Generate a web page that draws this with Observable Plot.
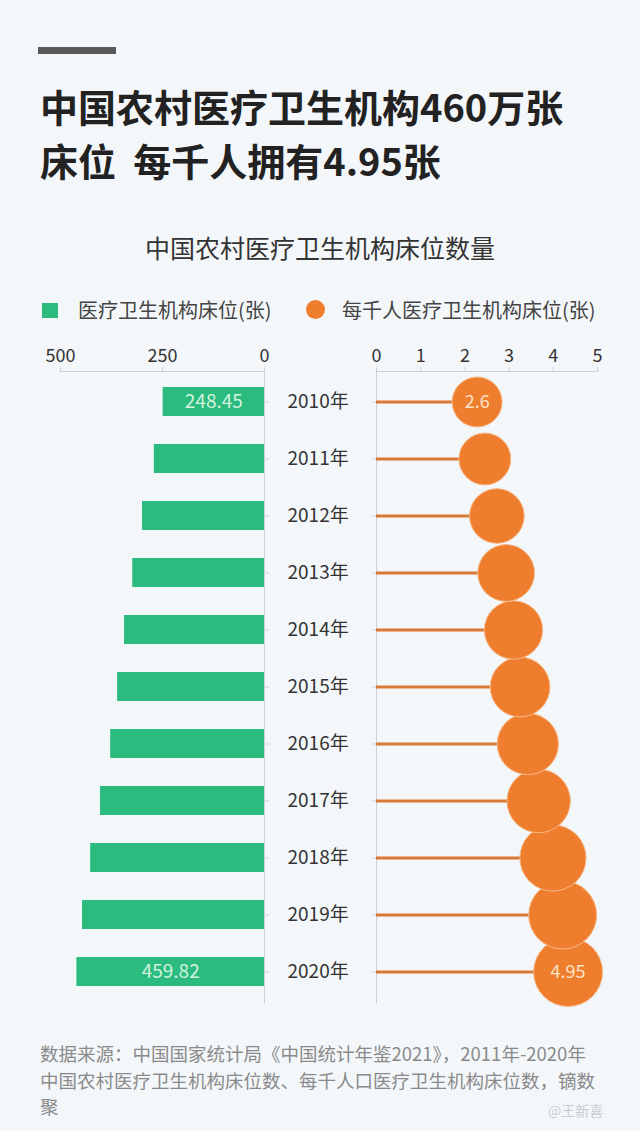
<!DOCTYPE html>
<html><head><meta charset="utf-8">
<script src="https://cdn.jsdelivr.net/npm/d3@7"></script>
<script src="https://cdn.jsdelivr.net/npm/@observablehq/plot@0.6"></script>
<style>
html,body{margin:0;padding:0;background:#f4f7fa;}
body{width:640px;height:1131px;position:relative;overflow:hidden;font-family:"Noto Sans CJK SC","Noto Sans",sans-serif;}
.abs{position:absolute;}
#topbar{left:38px;top:47px;width:78px;height:7px;background:#5a5a5a;}
#title{left:40px;top:79px;font-size:38px;font-weight:bold;line-height:54px;color:#222;white-space:nowrap;}
#sub{left:0;width:640px;text-align:center;top:232px;font-size:25px;line-height:30px;color:#333;}
.lg{top:296px;font-size:20px;line-height:28px;color:#444;white-space:nowrap;}
#sq{left:42px;top:303px;width:16px;height:15px;background:#2bbb7f;}
#dotlg{left:306px;top:300px;width:19px;height:19px;border-radius:50%;background:#ee7d2e;}
#foot{left:40px;top:1040px;font-size:18.5px;line-height:26.5px;color:#8a8a8a;white-space:nowrap;}
#wm{left:548px;top:1100px;font-size:14px;color:#c9cdd1;}
.plot{position:absolute;left:0;top:0;}
</style></head>
<body>
<div id="topbar" class="abs"></div>
<div id="title" class="abs">中国农村医疗卫生机构460万张<br>床位&nbsp;&nbsp;每千人拥有4.95张</div>
<div id="sub" class="abs">中国农村医疗卫生机构床位数量</div>
<div id="sq" class="abs"></div>
<div class="abs lg" style="left:78px;">医疗卫生机构床位(张)</div>
<div id="dotlg" class="abs"></div>
<div class="abs lg" style="left:342px;">每千人医疗卫生机构床位(张)</div>
<div id="foot" class="abs">数据来源：中国国家统计局《中国统计年鉴2021》，2011年-2020年<br>中国农村医疗卫生机构床位数、每千人口医疗卫生机构床位数，镝数<br>聚</div>
<div id="wm" class="abs">@王新喜</div>
<div id="charts"></div>
<script>
const years = ["2010年","2011年","2012年","2013年","2014年","2015年","2016年","2017年","2018年","2019年","2020年"];
const beds = [248.45, 270, 299, 323, 343, 360, 377, 402, 426, 446, 459.82];
const perThousand = [2.6, 2.8, 3.11, 3.35, 3.54, 3.71, 3.91, 4.19, 4.56, 4.81, 4.95];
const leftTicks = [500, 250, 0];
const rightTicks = [0, 1, 2, 3, 4, 5];
const labelledYears = ["2010年", "2020年"];

const data = years.map((y, i) => ({year: y, beds: beds[i], pt: perThousand[i]}));
const labelled = data.filter(d => labelledYears.includes(d.year));

const font = '"Noto Sans CJK SC","Noto Sans",sans-serif';
const gridC = "#cdd1d6";
const yScale = {domain: years, type: "band", paddingInner: 0.5, paddingOuter: 0.275, label: null};
const common = {width: 640, height: 1002, marginTop: 371, marginBottom: 0,
  style: {background: "transparent", fontFamily: font, overflow: "visible"}};

const left = Plot.plot({
  ...common, marginLeft: 60, marginRight: 376,
  x: {domain: [0, 500], reverse: true, label: null},
  y: yScale,
  marks: [
    Plot.barX(data, {x: "beds", y: "year", fill: "#2bbb7f"}),
    Plot.text(labelled, {x: d => d.beds / 2, y: "year", text: d => String(d.beds), fill: "#d2f3df", fontSize: 19}),
    Plot.frame({anchor: "top", stroke: gridC}),
    Plot.frame({anchor: "right", stroke: gridC}),
    Plot.axisX({anchor: "top", ticks: leftTicks, tickFormat: d => String(d), label: null, tickSize: 5, tickPadding: 5, fontSize: 18, stroke: gridC, fill: "#333"}),
    Plot.axisY({anchor: "right", label: null, tickSize: 4, tickPadding: 19, fontSize: 19, stroke: gridC, fill: "#333"})
  ]
});

const rightAxis = Plot.plot({
  ...common, marginLeft: 376, marginRight: 43,
  x: {domain: [0, 5], label: null},
  y: yScale,
  marks: [
    Plot.frame({anchor: "top", stroke: gridC}),
    Plot.frame({anchor: "left", stroke: gridC}),
    Plot.axisX({anchor: "top", ticks: rightTicks, tickFormat: d => String(d), label: null, tickSize: 5, tickPadding: 5, fontSize: 18, stroke: gridC, fill: "#333"}),
    Plot.axisY({anchor: "left", label: null, tickSize: 4, tickFormat: () => "", stroke: gridC})
  ]
});

const lollipop = Plot.plot({
  ...common, marginLeft: 376, marginRight: 70.5,
  x: {domain: [0, 5], axis: null},
  y: {...yScale, axis: null},
  r: {domain: [0, 4.95], range: [0, 34.5]},
  marks: [
    Plot.ruleY(data, {y: "year", x1: 0, x2: "pt", stroke: "#d97935", strokeWidth: 3}),
    Plot.dot(data, {x: "pt", y: "year", r: "pt", fill: "#ee7d2e", stroke: "#f7b988", strokeWidth: 1}),
    Plot.text(labelled, {x: "pt", y: "year", text: d => String(d.pt), fill: "#fde3c8", fontSize: 18})
  ]
});

for (const p of [left, rightAxis, lollipop]) {
  p.classList.add("plot");
  document.getElementById("charts").appendChild(p);
}
</script>
</body></html>
